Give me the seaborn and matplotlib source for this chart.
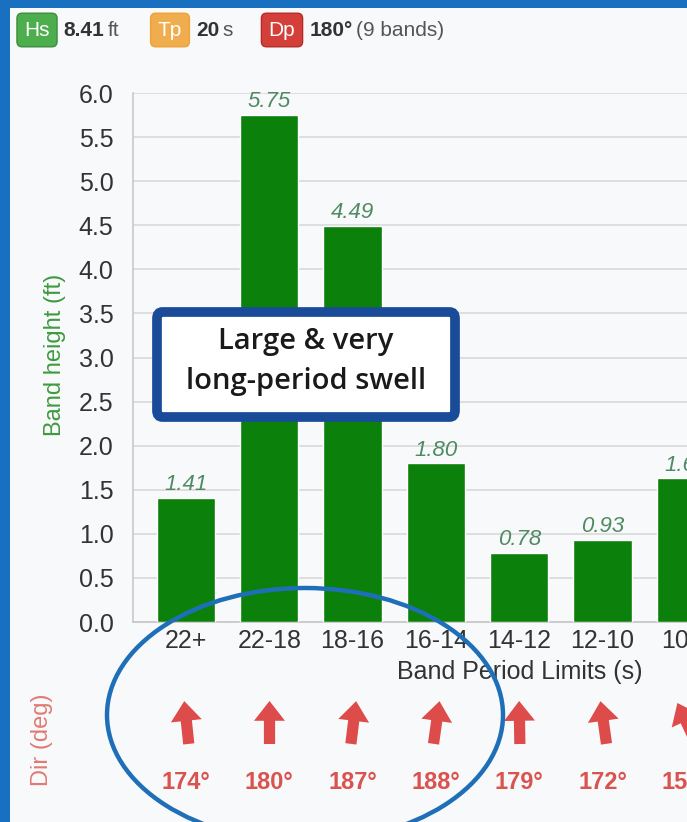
import numpy as np
import pandas as pd
import matplotlib
matplotlib.use("Agg")
import matplotlib.pyplot as plt
import seaborn as sns
from matplotlib.patches import FancyBboxPatch, Ellipse, Rectangle
from matplotlib.markers import MarkerStyle
from matplotlib.path import Path
from matplotlib.transforms import Affine2D

# band data (only the first 7 of the 9 bands are visible in the crop)
bands = ["22+", "22-18", "18-16", "16-14", "14-12", "12-10", "10-8"]
heights = [1.41, 5.75, 4.49, 1.80, 0.78, 0.93, 1.63]
directions = [174, 180, 187, 188, 179, 172, 155]
yticks = np.arange(0, 6.01, 0.5)

W, H = 687, 822
sns.set_theme(style="white")
plt.rcParams["font.family"] = ["Liberation Sans", "DejaVu Sans"]

bg = "#f8f9fb"
fig = plt.figure(figsize=(W / 100, H / 100), dpi=100)
fig.patch.set_facecolor(bg)


def fx(x):
    return x / W


def fy(y):
    return 1 - y / H


# main bar chart
ax = fig.add_axes([fx(133), fy(622), fx(687) - fx(133), fy(93) - fy(622)])
ax.set_facecolor(bg)
df = pd.DataFrame({"band": bands, "height": heights})
sns.barplot(data=df, x="band", y="height", order=bands, color="#0b800b",
            width=0.7, saturation=1, ax=ax, zorder=3)
ax.set_xlim(-0.636, 6.014)
ax.set_ylim(0, 6)
ax.set_yticks(yticks)
ax.set_yticklabels([f"{v:.1f}" for v in yticks])
ax.yaxis.grid(True, color="#d9d9d9", lw=1.2)
ax.set_axisbelow(True)
for s in ["top", "right"]:
    ax.spines[s].set_visible(False)
ax.spines["left"].set_color("#cccccc")
ax.spines["bottom"].set_color("#c8c8c8")
ax.tick_params(axis="both", length=0, labelsize=18, labelcolor="#333333")
ax.tick_params(axis="y", pad=14)
ax.tick_params(axis="x", pad=5)
ax.set_xlabel("")
ax.set_ylabel("")
ax.bar_label(ax.containers[0], labels=[f"{v:.2f}" for v in heights],
             fontsize=16, style="italic", color="#4f8a63", padding=2)

fig.text(fx(55), fy(355), "Band height (ft)", rotation=90, ha="center", va="center",
         fontsize=17, color="#3f9a3f")
fig.text(fx(520), fy(672), "Band Period Limits (s)", ha="center", va="center",
         fontsize=18, color="#333333")

# direction row
ax_dir = fig.add_axes([fx(133), fy(810), fx(687) - fx(133), fy(690) - fy(810)])
ax_dir.set_xlim(ax.get_xlim())
ax_dir.set_ylim(0, 1)
ax_dir.axis("off")
arrow = Path([(-0.13, -0.5), (0.13, -0.5), (0.13, 0.04), (0.36, 0.04), (0, 0.5),
              (-0.36, 0.04), (-0.13, 0.04), (-0.13, -0.5)],
             [Path.MOVETO] + [Path.LINETO] * 6 + [Path.CLOSEPOLY])
for i, d in enumerate(directions):
    mk = MarkerStyle(arrow, transform=Affine2D().rotate_deg(180 - d))
    ax_dir.scatter([i], [0.733], marker=mk, s=31 ** 2, color="#dd4b4b",
                   linewidths=0, clip_on=False)
    ax_dir.text(i, 0.233, f"{d}°", ha="center", va="center", fontsize=17,
                fontweight="bold", color="#d9534f")
fig.text(fx(42), fy(740), "Dir (deg)", rotation=90, ha="center", va="center",
         fontsize=17, color="#e07b73")

# header badges
badges = [("Hs", "#4cae4c", "#3d8b3d", 37, "8.41", 63, "ft", 108),
          ("Tp", "#f0ad4e", "#eea236", 170, "20", 196, "s", 222),
          ("Dp", "#d43f3a", "#b52b27", 282, "180°", 310, "(9 bands)", 356)]
for name, fc, ec, bx, val, vx, unit, ux in badges:
    fig.text(fx(bx), fy(30), name, ha="center", va="center", fontsize=15,
             color="white", bbox=dict(boxstyle="round,pad=0.35,rounding_size=0.25",
                                      fc=fc, ec=ec, lw=1))
    fig.text(fx(vx), fy(30), val, ha="left", va="center", fontsize=15,
             fontweight="bold", color="#333333")
    fig.text(fx(ux), fy(30), unit, ha="left", va="center", fontsize=15,
             color="#555555")

# annotation box
box = FancyBboxPatch((fx(157), fy(417)), fx(455) - fx(157), fy(312) - fy(417),
                     boxstyle="round,pad=0,rounding_size=0.008",
                     transform=fig.transFigure, fc="white", ec="#1a4b99", lw=7,
                     zorder=10)
fig.patches.append(box)
fig.text(fx(306), fy(341), "Large & very", ha="center", va="center", fontsize=21,
         family="Open Sans", fontweight="semibold", color="#1a1a1a", zorder=11)
fig.text(fx(306), fy(381), "long-period swell", ha="center", va="center",
         fontsize=21, family="Open Sans", fontweight="semibold", color="#1a1a1a",
         zorder=11)

# hand-drawn style ellipse
ell = Ellipse((fx(305), fy(715)), fx(396), 254 / H, transform=fig.transFigure,
              fill=False, ec="#1f6fb8", lw=3.2, zorder=12)
fig.patches.append(ell)

# blue frame
fig.patches.append(Rectangle((0, 0), fx(10), 1, transform=fig.transFigure,
                             fc="#1a70c0", ec="none", zorder=20))
fig.patches.append(Rectangle((0, fy(8)), 1, 8 / H, transform=fig.transFigure,
                             fc="#1a70c0", ec="none", zorder=20))

fig.savefig("out.png", dpi=100, facecolor=bg)
